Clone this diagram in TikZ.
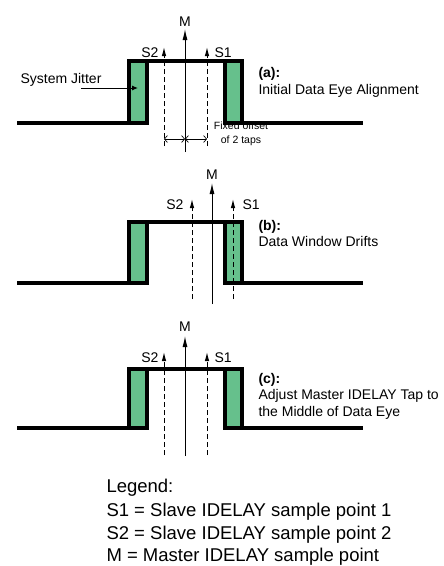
\documentclass[tikz,border=0pt]{standalone}
\usepackage{fontspec}
\setmainfont{Liberation Sans}
\usetikzlibrary{arrows.meta}
\definecolor{jittergreen}{RGB}{102,192,140}

\begin{document}
\begin{tikzpicture}[x=1pt,y=-1pt,line width=1pt,
		master/.style={-{Latex[length=11pt,width=5pt]}},
		slave/.style={-{Latex[length=9pt,width=4.5pt]},dash pattern=on 5pt off 3pt},
		offset/.style={{Straight Barb[length=3pt,width=7pt]}-{Straight Barb[length=3pt,width=7pt]},line width=0.7pt},
		txt/.style={inner sep=0pt,font=\fontsize{14}{16}\selectfont},
		small/.style={inner sep=0pt,font=\fontsize{10.5}{14}\selectfont,align=center},
		legend/.style={inner sep=0pt,anchor=base west,font=\fontsize{18.5}{22}\selectfont}]
		\newcommand{\datawindow}[2]{% #1 = low level, #2 = high level
			\fill[jittergreen] (129,#2) rectangle (147,#1) (225,#2) rectangle (242,#1);
			\draw[line width=3.2pt] (17,#1)--(147,#1)--(147,#2)
			(129,#1)--(129,#2)--(242,#2)--(242,#1)
			(225,#2)--(225,#1)--(363,#1);}
		
		\useasboundingbox (0,0) rectangle (444,566);
		
		% (a) initial alignment
		\datawindow{123}{61}
		\coordinate (a-s2) at (164,146); \coordinate (a-s2t) at (164,47);
		\coordinate (a-m)  at (185,152); \coordinate (a-mt)  at (185,29);
		\coordinate (a-s1) at (207,146); \coordinate (a-s1t) at (207,47);
		\draw[slave]  (a-s2)--(a-s2t);
		\draw[master] (a-m)--(a-mt);
		\draw[slave]  (a-s1)--(a-s1t);
		\node[txt,anchor=base]      (a-ml)  at (185,26) {M};
		\node[txt,anchor=base east] (a-s2l) at (159,57) {S2};
		\node[txt,anchor=base west] (a-s1l) at (214,57) {S1};
		\coordinate (d-s2) at (164,139); \coordinate (d-m) at (185,139); \coordinate (d-s1) at (207,139);
		\draw[offset] (d-s2)--(d-m);
		\draw[offset] (d-m)--(d-s1);
		\node[small,anchor=base] (fixed) at (241,143) {Fixed offset\\of 2 taps};
		\node[txt,anchor=base] (jitter) at (61,83) {System Jitter};
		\coordinate (j-from) at (81,88); \coordinate (j-to) at (138,88);
		\draw[-{Latex[length=6pt,width=5pt]}] (j-from)--(j-to);
		\node[txt,anchor=base west,font=\fontsize{14}{16}\selectfont\bfseries] (a-tag) at (258,77) {(a):};
		\node[txt,anchor=base west] (a-cap) at (258,94) {Initial Data Eye Alignment};
		
		% (b) window drifts
		\datawindow{283}{222}
		\coordinate (b-s2) at (192,299); \coordinate (b-s2t) at (192,199);
		\coordinate (b-m)  at (212,304); \coordinate (b-mt)  at (212,183);
		\coordinate (b-s1) at (233,299); \coordinate (b-s1t) at (233,199);
		\draw[slave]  (b-s2)--(b-s2t);
		\draw[master] (b-m)--(b-mt);
		\draw[slave]  (b-s1)--(b-s1t);
		\node[txt,anchor=base]      (b-ml)  at (212,179) {M};
		\node[txt,anchor=base east] (b-s2l) at (184,209) {S2};
		\node[txt,anchor=base west] (b-s1l) at (242,209) {S1};
		\node[txt,anchor=base west,font=\fontsize{14}{16}\selectfont\bfseries] (b-tag) at (258,230) {(b):};
		\node[txt,anchor=base west] (b-cap) at (258,246) {Data Window Drifts};
		
		% (c) master moved to the middle
		\datawindow{428}{369}
		\coordinate (c-s2) at (164,455); \coordinate (c-s2t) at (164,352);
		\coordinate (c-m)  at (185,456); \coordinate (c-mt)  at (185,336);
		\coordinate (c-s1) at (207,455); \coordinate (c-s1t) at (207,352);
		\draw[slave]  (c-s2)--(c-s2t);
		\draw[master] (c-m)--(c-mt);
		\draw[slave]  (c-s1)--(c-s1t);
		\node[txt,anchor=base]      (c-ml)  at (185,331) {M};
		\node[txt,anchor=base east] (c-s2l) at (159,362) {S2};
		\node[txt,anchor=base west] (c-s1l) at (214,362) {S1};
		\node[txt,anchor=base west,font=\fontsize{14}{16}\selectfont\bfseries] (c-tag) at (258,383) {(c):};
		\node[txt,anchor=base west] (c-cap1) at (258,399) {Adjust Master IDELAY Tap to};
		\node[txt,anchor=base west] (c-cap2) at (258,416) {the Middle of Data Eye};
		
		% legend
		\node[legend] (leg)    at (106,492) {Legend:};
		\node[legend] (leg-s1) at (106,516) {S1 = Slave IDELAY sample point 1};
		\node[legend] (leg-s2) at (106,539) {S2 = Slave IDELAY sample point 2};
		\node[legend] (leg-m)  at (106,561) {M = Master IDELAY sample point};
	\end{tikzpicture}
\end{document}
